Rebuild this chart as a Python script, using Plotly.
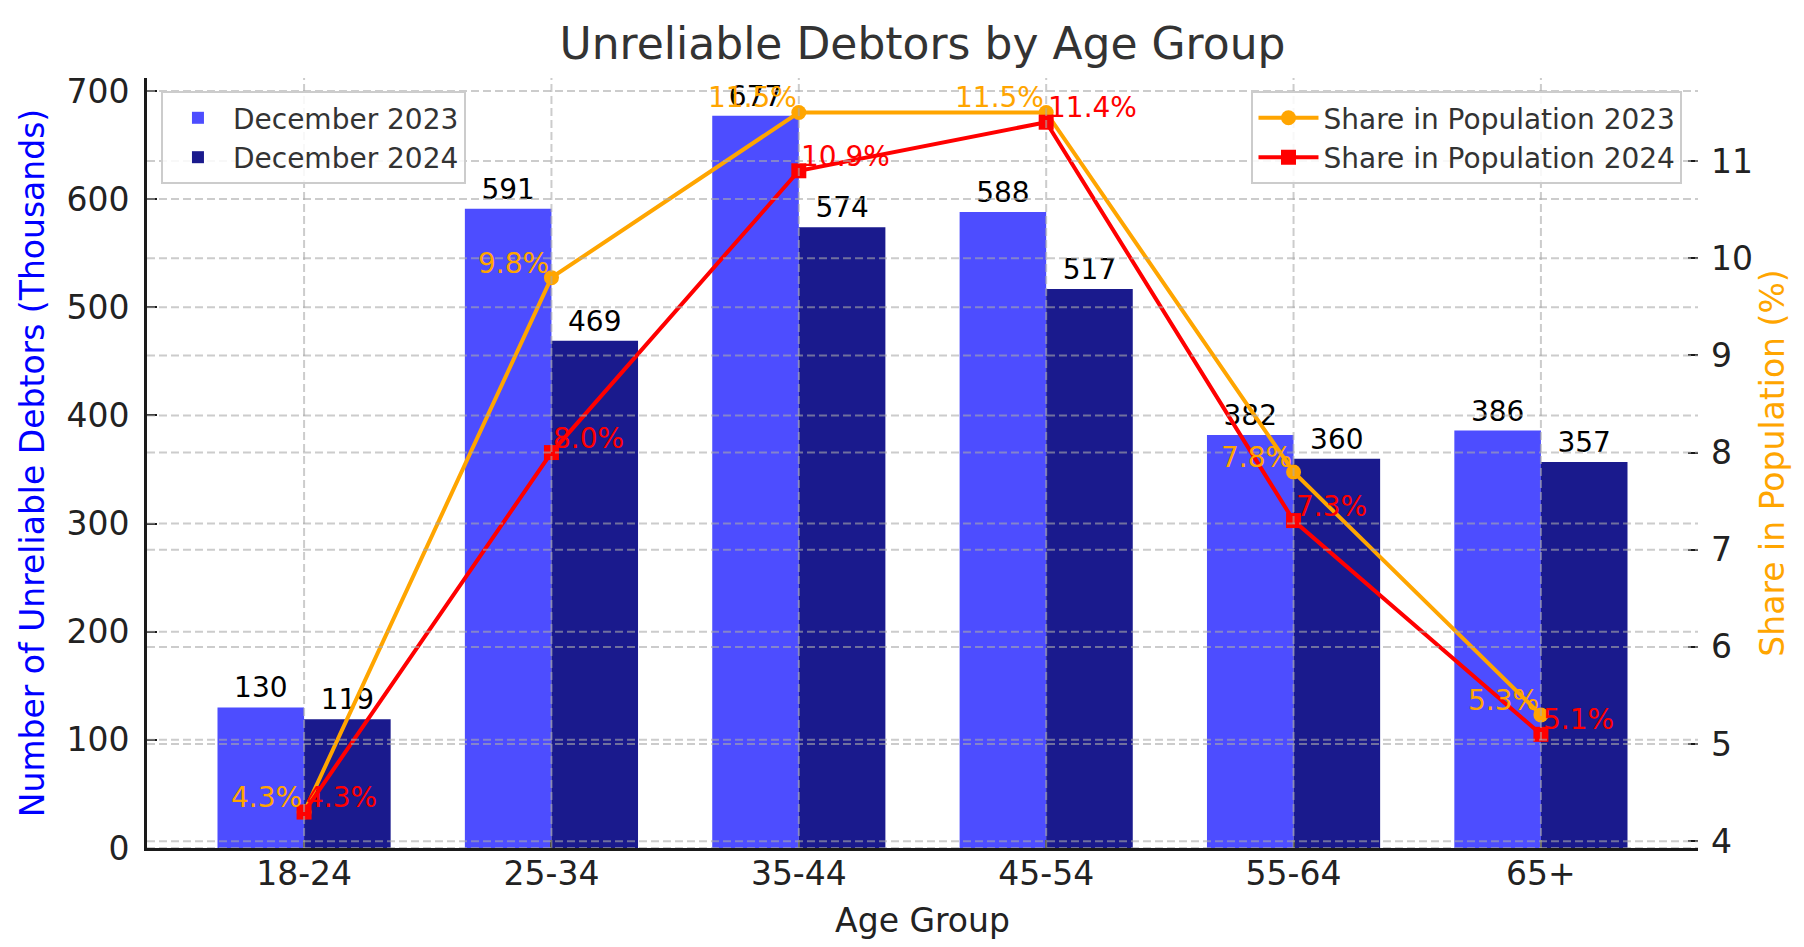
import plotly.graph_objects as go

# ---- data ----
age_groups = ["18-24", "25-34", "35-44", "45-54", "55-64", "65+"]
debtors_2023 = [130, 591, 677, 588, 382, 386]
debtors_2024 = [119, 469, 574, 517, 360, 357]
share_2023 = [4.3, 9.8, 11.5, 11.5, 7.8, 5.3]
share_2024 = [4.3, 8.0, 10.9, 11.4, 7.3, 5.1]
left_ticks = [0, 100, 200, 300, 400, 500, 600, 700]
right_ticks = [4, 5, 6, 7, 8, 9, 10, 11]

FONT = "DejaVu Sans"
GRID = "rgba(170,170,170,0.6)"

fig = go.Figure()

fig.add_trace(go.Bar(
    x=age_groups, y=debtors_2023, name="December 2023",
    marker=dict(color="rgb(77,77,255)", line=dict(width=0)),
    text=[str(v) for v in debtors_2023], textposition="outside",
    textfont=dict(family=FONT, size=28, color="black"),
    constraintext="none", cliponaxis=False, legend="legend",
))
fig.add_trace(go.Bar(
    x=age_groups, y=debtors_2024, name="December 2024",
    marker=dict(color="rgb(26,26,141)", line=dict(width=0)),
    text=[str(v) for v in debtors_2024], textposition="outside",
    textfont=dict(family=FONT, size=28, color="black"),
    constraintext="none", cliponaxis=False, legend="legend",
))
fig.add_trace(go.Scatter(
    x=age_groups, y=share_2023, name="Share in Population 2023",
    mode="lines+markers", yaxis="y2",
    line=dict(color="orange", width=4),
    marker=dict(symbol="circle", size=15, color="orange"),
    cliponaxis=False, legend="legend2",
))
fig.add_trace(go.Scatter(
    x=age_groups, y=share_2024, name="Share in Population 2024",
    mode="lines+markers", yaxis="y2",
    line=dict(color="red", width=4),
    marker=dict(symbol="square", size=15, color="red"),
    cliponaxis=False, legend="legend2",
))

annotations = []
for cat, v in zip(age_groups, share_2023):
    annotations.append(dict(x=cat, y=v, xref="x", yref="y2", text=f"{v:.1f}%",
                            showarrow=False, xanchor="right", yanchor="bottom",
                            yshift=-4, font=dict(family=FONT, size=28, color="orange")))
for cat, v in zip(age_groups, share_2024):
    annotations.append(dict(x=cat, y=v, xref="x", yref="y2", text=f"{v:.1f}%",
                            showarrow=False, xanchor="left", yanchor="bottom",
                            yshift=-4, font=dict(family=FONT, size=28, color="red")))

# grid lines drawn above bars (as in the reference)
shapes = []
for v in left_ticks:
    shapes.append(dict(type="line", xref="paper", x0=0, x1=1, yref="y", y0=v, y1=v,
                       line=dict(color=GRID, width=2, dash="8px,4px"), layer="above"))
for v in right_ticks:
    shapes.append(dict(type="line", xref="paper", x0=0, x1=1, yref="y2", y0=v, y1=v,
                       line=dict(color=GRID, width=2, dash="8px,4px"), layer="above"))
for cat in age_groups:
    shapes.append(dict(type="line", xref="x", x0=cat, x1=cat, yref="paper", y0=0, y1=1,
                       line=dict(color=GRID, width=2, dash="8px,4px"), layer="above"))

fig.update_layout(
    width=1804, height=947,
    margin=dict(l=139, r=114, t=70, b=107, autoexpand=False),
    paper_bgcolor="white", plot_bgcolor="white",
    font=dict(family=FONT, size=33, color="#222"),
    title=dict(text="Unreliable Debtors by Age Group", x=0.5, xref="paper",
               y=1 - 36 / 947, yref="container", xanchor="center", yanchor="middle",
               font=dict(family=FONT, size=44, color="#333")),
    barmode="group", bargap=0.3, bargroupgap=0,
    xaxis=dict(
        type="category", range=[-0.635, 5.635],
        showgrid=False, showline=True, linecolor="#1a1a1a", linewidth=3,
        ticks="inside", ticklen=8, tickwidth=2, tickcolor="#1a1a1a",
        ticklabelstandoff=-6, tickfont=dict(size=33, color="#222"),
        title=dict(text="Age Group", standoff=18, font=dict(size=33, color="#222")),
        zeroline=False,
    ),
    yaxis=dict(
        range=[0, 712], tickvals=left_ticks,
        showgrid=False, showline=True, linecolor="#1a1a1a", linewidth=3,
        ticks="inside", ticklen=10, tickwidth=2, tickcolor="#1a1a1a",
        ticklabelstandoff=8, tickfont=dict(size=33, color="#222"),
        title=dict(text="Number of Unreliable Debtors (Thousands)", standoff=12,
                   font=dict(size=33, color="blue")),
        zeroline=False,
    ),
    yaxis2=dict(
        overlaying="y", side="right", range=[3.93, 11.855], tickvals=right_ticks,
        showgrid=False, showline=False,
        ticks="inside", ticklen=10, tickwidth=2, tickcolor="#1a1a1a",
        ticklabelstandoff=12, tickfont=dict(size=33, color="#222"),
        title=dict(text="Share in Population (%)", standoff=4,
                   font=dict(size=33, color="orange")),
        zeroline=False,
    ),
    legend=dict(
        x=0.009, y=0.983, xanchor="left", yanchor="top", xref="paper", yref="paper",
        bgcolor="rgba(255,255,255,0.85)", bordercolor="#cccccc", borderwidth=2,
        font=dict(family=FONT, size=28, color="#333"), itemwidth=60,
    ),
    legend2=dict(
        x=0.990, y=0.983, xanchor="right", yanchor="top", xref="paper", yref="paper",
        bgcolor="rgba(255,255,255,0.85)", bordercolor="#cccccc", borderwidth=2,
        font=dict(family=FONT, size=28, color="#333"), itemwidth=60,
    ),
    annotations=annotations,
    shapes=shapes,
)

fig.write_html("out.html")
